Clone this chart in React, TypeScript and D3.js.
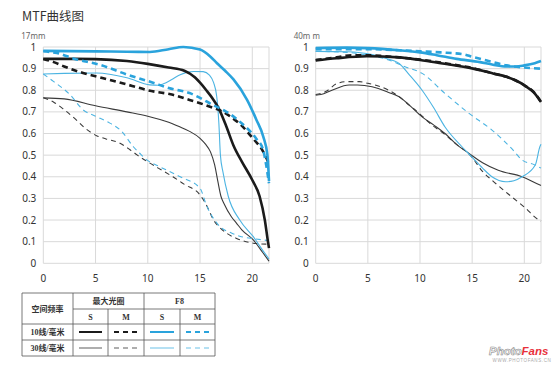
import React, { useEffect, useRef } from "react";
import * as d3 from "d3";

type Pt = [number, number];

const xTicks = [0, 5, 10, 15, 20];
const yTicks = [0, 0.1, 0.2, 0.3, 0.4, 0.5, 0.6, 0.7, 0.8, 0.9, 1];
const yTickLabels = ["0", "0.1", "0.2", "0.3", "0.4", "0.5", "0.6", "0.7", "0.8", "0.9", "1"];
const xMax = 21.6;

// 17mm
const w_maxS10: Pt[] = [[0,0.945],[3,0.945],[5,0.944],[8,0.935],[10,0.922],[12,0.905],[13.5,0.89],[14.5,0.86],[15,0.835],[15.6,0.8],[16.2,0.762],[16.75,0.72],[17.5,0.635],[18.2,0.545],[19,0.47],[20,0.385],[20.7,0.31],[21.2,0.2],[21.5,0.1],[21.6,0.07]];
const w_maxM10: Pt[] = [[0,0.945],[1,0.93],[2,0.91],[3.8,0.88],[5,0.865],[7,0.84],[9.25,0.81],[10,0.8],[12.4,0.779],[14,0.755],[15,0.74],[16.3,0.718],[17,0.705],[18,0.675],[18.8,0.645],[20.1,0.575],[21,0.52],[21.6,0.46]];
const w_maxS30: Pt[] = [[0,0.765],[2,0.76],[5,0.728],[8,0.7],[10,0.68],[12,0.652],[13,0.632],[14,0.61],[15,0.578],[15.5,0.552],[16,0.515],[16.4,0.455],[16.7,0.38],[17,0.31],[17.3,0.275],[18,0.215],[18.5,0.185],[19,0.155],[20.1,0.108],[21,0.05],[21.6,0.01]];
const w_maxM30: Pt[] = [[0,0.765],[1,0.745],[2,0.71],[3,0.67],[4,0.625],[5.1,0.59],[6,0.575],[7.35,0.555],[8.3,0.525],[9,0.5],[10.2,0.463],[11,0.44],[12.4,0.4],[13.5,0.365],[15,0.316],[15.6,0.27],[16.3,0.2],[17,0.16],[17.55,0.139],[18.5,0.115],[20.1,0.093],[21.6,0.088]];
const w_f8S10: Pt[] = [[0,0.982],[5,0.98],[8,0.978],[10.2,0.977],[12,0.99],[13.4,1.0],[15,0.988],[16,0.955],[16.6,0.926],[17.4,0.89],[18.2,0.85],[19.5,0.756],[20.4,0.663],[21.05,0.586],[21.45,0.5],[21.6,0.38]];
const w_f8M10: Pt[] = [[0,0.98],[1.3,0.972],[3,0.945],[5.4,0.918],[8,0.873],[10.5,0.835],[12,0.81],[14,0.787],[15,0.765],[16.3,0.73],[17,0.715],[18.8,0.655],[20.4,0.575],[21,0.53],[21.6,0.37]];
const w_f8S30: Pt[] = [[0,0.875],[2,0.878],[5.1,0.88],[8,0.858],[10.2,0.825],[11,0.823],[11.5,0.83],[12.3,0.85],[13.1,0.872],[14.4,0.887],[15.3,0.886],[15.9,0.87],[16.3,0.835],[16.6,0.77],[16.8,0.65],[16.95,0.5],[17.2,0.42],[17.7,0.31],[18.8,0.2],[20.1,0.123],[21,0.06],[21.6,0.02]];
const w_f8M30: Pt[] = [[0,0.875],[1,0.84],[2.55,0.78],[3.8,0.71],[5,0.68],[6.1,0.655],[7.5,0.61],[8.6,0.54],[9.2,0.51],[9.9,0.478],[11,0.45],[13.1,0.4],[15,0.347],[15.6,0.27],[16.9,0.17],[18,0.14],[18.8,0.125],[20,0.115],[21.6,0.105]];

// 40mm
const t_maxS10: Pt[] = [[0,0.938],[2,0.948],[4.9,0.957],[8,0.952],[10,0.94],[12,0.925],[15.1,0.9],[17,0.878],[18.3,0.862],[19.2,0.845],[20,0.823],[20.9,0.79],[21.6,0.746]];
const t_maxM10: Pt[] = [[0,0.94],[2,0.952],[3.5,0.962],[5,0.962],[6.5,0.958],[8,0.952],[10,0.942],[12,0.928],[14,0.912],[15.1,0.902],[17,0.878],[18.3,0.862],[20,0.823],[21,0.787],[21.6,0.746]];
const t_maxS30: Pt[] = [[0,0.777],[0.5,0.78],[1.56,0.8],[3.2,0.824],[4,0.824],[5.4,0.816],[7,0.79],[8,0.77],[9,0.73],[10.2,0.677],[11.3,0.64],[12.4,0.6],[13.5,0.55],[14.7,0.508],[16,0.465],[17.5,0.43],[19.8,0.4],[21.5,0.362],[21.6,0.36]];
const t_maxM30: Pt[] = [[0,0.78],[1,0.795],[2,0.83],[3,0.84],[4.2,0.84],[5,0.832],[6,0.82],[7,0.8],[8,0.77],[9,0.73],[10,0.69],[11,0.645],[12.4,0.595],[13.5,0.55],[15,0.49],[15.9,0.43],[17,0.38],[18.8,0.307],[20,0.26],[21.4,0.2],[21.6,0.195]];
const t_f8S10: Pt[] = [[0,0.995],[3,0.997],[5,0.995],[8,0.985],[10,0.975],[11.6,0.962],[13.5,0.945],[15.75,0.93],[17,0.918],[18.3,0.91],[19.2,0.91],[20,0.915],[21,0.925],[21.6,0.935]];
const t_f8M10: Pt[] = [[0,0.99],[5,0.99],[8,0.985],[10,0.98],[12,0.975],[14.2,0.966],[15,0.955],[16.4,0.938],[18.3,0.915],[20,0.905],[21.6,0.9]];
const t_f8S30: Pt[] = [[0,0.98],[3,0.978],[5.4,0.965],[6.5,0.95],[8,0.924],[9,0.87],[10.2,0.8],[11.3,0.72],[12.4,0.63],[14,0.54],[15,0.49],[16,0.44],[16.9,0.4],[18.2,0.377],[19,0.382],[19.8,0.4],[21.05,0.454],[21.5,0.54],[21.6,0.55]];
const t_f8M30: Pt[] = [[0,0.98],[3,0.975],[5,0.962],[7,0.94],[8.5,0.91],[10.2,0.878],[12.4,0.785],[14.7,0.693],[16.9,0.616],[18.8,0.53],[19.8,0.477],[21,0.455],[21.6,0.44]];

const BLACK = "#1b1b1b";
const BLACK_THIN = "#3a3a3a";
const BLUE = "#2aa3dc";
const BLUE_THIN = "#4cb4e2";

const styles = {
  maxS10: { color: BLACK, width: 2.6, dash: null },
  maxM10: { color: BLACK, width: 2.6, dash: "6,4" },
  maxS30: { color: BLACK_THIN, width: 1.1, dash: null },
  maxM30: { color: BLACK_THIN, width: 1.1, dash: "5,4" },
  f8S10: { color: BLUE, width: 2.6, dash: null },
  f8M10: { color: BLUE, width: 2.6, dash: "6,4" },
  f8S30: { color: BLUE_THIN, width: 1.1, dash: null },
  f8M30: { color: BLUE_THIN, width: 1.1, dash: "5,4" },
};

const App = () => {
  const ref = useRef<SVGSVGElement>(null);

  useEffect(() => {
    const svg = d3.select(ref.current);
    svg.selectAll("*").remove();

    svg.append("text").attr("x", 22).attr("y", 21)
      .style("font-family", "'Noto Sans CJK SC', sans-serif").style("font-size", "12.5px")
      .attr("fill", "#333").text("MTF曲线图");

    const drawChart = (left: number, right: number, label: string, series: [Pt[], keyof typeof styles][]) => {
      const x = d3.scaleLinear().domain([0, xMax]).range([left, right]);
      const y = d3.scaleLinear().domain([0, 1]).range([263.3, 47]);
      const g = svg.append("g");

      g.selectAll(".hgrid").data(yTicks).join("line")
        .attr("x1", left).attr("x2", right)
        .attr("y1", (d) => y(d)).attr("y2", (d) => y(d))
        .attr("stroke", "#d9d9d9").attr("stroke-width", 1);
      g.selectAll(".vgrid").data([...xTicks, xMax]).join("line")
        .attr("x1", (d) => x(d)).attr("x2", (d) => x(d))
        .attr("y1", y(0)).attr("y2", y(1))
        .attr("stroke", "#d9d9d9").attr("stroke-width", 1);

      g.selectAll(".ylab").data(yTicks).join("text")
        .attr("x", left - 7).attr("y", (d) => y(d) + 3.5)
        .attr("text-anchor", "end")
        .style("font-family", "'Noto Sans', sans-serif").style("font-size", "10px")
        .attr("fill", "#333").text((d, i) => yTickLabels[i]);
      g.selectAll(".xlab").data(xTicks).join("text")
        .attr("x", (d) => x(d)).attr("y", 282)
        .attr("text-anchor", "middle")
        .style("font-family", "'Noto Sans', sans-serif").style("font-size", "10px")
        .attr("fill", "#333").text((d) => d);

      g.append("text").attr("x", left - 22).attr("y", 39)
        .style("font-family", "'Noto Sans', sans-serif").style("font-size", "8px")
        .attr("fill", "#666").text(label);

      const line = d3.line<Pt>().x((d) => x(d[0])).y((d) => y(d[1])).curve(d3.curveMonotoneX);
      series.forEach(([data, key]) => {
        const s = styles[key];
        g.append("path").attr("d", line(data))
          .attr("fill", "none").attr("stroke", s.color)
          .attr("stroke-width", s.width)
          .attr("stroke-dasharray", s.dash)
          .attr("stroke-linejoin", "round");
      });
    };

    drawChart(43.3, 269, "17mm", [
      [w_maxM30, "maxM30"], [w_maxS30, "maxS30"], [w_f8M30, "f8M30"], [w_f8S30, "f8S30"],
      [w_maxM10, "maxM10"], [w_maxS10, "maxS10"], [w_f8M10, "f8M10"], [w_f8S10, "f8S10"],
    ]);
    drawChart(315.7, 541, "40m m", [
      [t_maxM30, "maxM30"], [t_maxS30, "maxS30"], [t_f8M30, "f8M30"], [t_f8S30, "f8S30"],
      [t_maxS10, "maxS10"], [t_maxM10, "maxM10"], [t_f8S10, "f8S10"], [t_f8M10, "f8M10"],
    ]);

    // legend table
    const lg = svg.append("g");
    const cols = [22, 73, 108, 144, 180, 215];
    const rows = [293, 309, 324, 340, 356];
    const bc = "#555";
    const hl = (yy: number, x1: number, x2: number) =>
      lg.append("line").attr("x1", x1).attr("x2", x2).attr("y1", yy).attr("y2", yy).attr("stroke", bc).attr("stroke-width", 0.8);
    const vl = (xx: number, y1: number, y2: number) =>
      lg.append("line").attr("x1", xx).attr("x2", xx).attr("y1", y1).attr("y2", y2).attr("stroke", bc).attr("stroke-width", 0.8);
    hl(rows[0], cols[0], cols[5]);
    hl(rows[1], cols[1], cols[5]);
    hl(rows[2], cols[0], cols[5]);
    hl(rows[3], cols[0], cols[5]);
    hl(rows[4], cols[0], cols[5]);
    vl(cols[0], rows[0], rows[4]);
    vl(cols[1], rows[0], rows[4]);
    vl(cols[2], rows[1], rows[4]);
    vl(cols[3], rows[0], rows[4]);
    vl(cols[4], rows[1], rows[4]);
    vl(cols[5], rows[0], rows[4]);

    const txt = (tx: number, ty: number, s: string) =>
      lg.append("text").attr("x", tx).attr("y", ty).attr("text-anchor", "middle")
        .style("font-family", "'Liberation Serif', 'Noto Sans CJK SC', serif")
        .style("font-size", "8px").style("font-weight", "bold").attr("fill", "#333").text(s);
    txt((cols[0] + cols[1]) / 2, 312, "空间频率");
    txt((cols[1] + cols[3]) / 2, 304, "最大光圈");
    txt((cols[3] + cols[5]) / 2, 304, "F8");
    ["S", "M", "S", "M"].forEach((s, i) => txt((cols[i + 1] + cols[i + 2]) / 2, 320, s));
    txt((cols[0] + cols[1]) / 2, 335, "10线/毫米");
    txt((cols[0] + cols[1]) / 2, 351, "30线/毫米");

    const legendKeys: (keyof typeof styles)[][] = [
      ["maxS10", "maxM10", "f8S10", "f8M10"],
      ["maxS30", "maxM30", "f8S30", "f8M30"],
    ];
    legendKeys.forEach((row, r) => {
      row.forEach((key, c) => {
        const s = styles[key];
        const cy = (rows[r + 2] + rows[r + 3]) / 2;
        lg.append("line")
          .attr("x1", cols[c + 1] + 6).attr("x2", cols[c + 2] - 6)
          .attr("y1", cy).attr("y2", cy)
          .attr("stroke", s.color)
          .attr("stroke-width", s.width * 0.75)
          .attr("stroke-dasharray", s.dash ? "5,4" : null);
      });
    });

    // watermark
    const wm = svg.append("text").attr("x", 489).attr("y", 355)
      .style("font-family", "'Liberation Sans', sans-serif").style("font-size", "11.5px")
      .style("font-weight", "bold").style("font-style", "italic");
    wm.append("tspan").attr("fill", "#fff").attr("stroke", "#888").attr("stroke-width", 0.6).text("Photo");
    wm.append("tspan").attr("fill", "#e8303a").text("Fans");
    svg.append("text").attr("x", 522).attr("y", 362).attr("text-anchor", "middle")
      .style("font-family", "'Liberation Sans', sans-serif").style("font-size", "4.5px")
      .attr("fill", "#aaa").style("letter-spacing", "0.6px").text("WWW.PHOTOFANS.CN");
  }, []);

  return (
    <svg ref={ref} width={560} height={366}
      style={{ position: "absolute", left: 0, top: 0, background: "#fff" }} />
  );
};

export default App;
